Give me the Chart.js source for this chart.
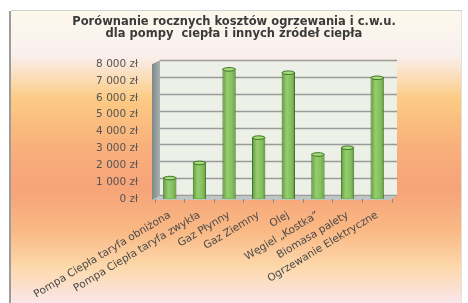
<!DOCTYPE html>
<html>
<head>
<meta charset="utf-8">
<script src="https://cdn.jsdelivr.net/npm/chart.js@4"></script>
<style>
  html, body { margin: 0; padding: 0; background: #fff; }
</style>
</head>
<body>
<canvas id="chart" width="468" height="303"></canvas>
<script>
// data
const categories = [
  'Pompa Ciepła taryfa obniżona',
  'Pompa Ciepła taryfa zwykła',
  'Gaz Płynny',
  'Gaz Ziemny',
  'Olej',
  'Węgiel „Kostka”',
  'Biomasa palety',
  'Ogrzewanie Elektryczne'
];
const costs = [1300, 2200, 7750, 3700, 7550, 2700, 3100, 7250];
const titleLines = [
  'Porównanie rocznych kosztów ogrzewania i c.w.u.',
  'dla pompy  ciepła i innych źródeł ciepła'
];
const yMax = 8000;
const yStep = 1000;

function zl(v) {
  return String(v).replace(/\B(?=(\d{3})+(?!\d))/g, ' ') + ' zł';
}

// background, frame and the fake 3d walls
const backdrop = {
  id: 'backdrop',
  beforeDraw(chart) {
    const c = chart.ctx, W = chart.width, H = chart.height;
    const a = chart.chartArea;
    c.save();
    c.fillStyle = '#fff';
    c.fillRect(0, 0, W, H);

    const g = c.createLinearGradient(0, 11, 0, H);
    g.addColorStop(0.00, '#fdf8ec');
    g.addColorStop(0.15, '#f9f0ef');
    g.addColorStop(0.30, '#fccb84');
    g.addColorStop(0.45, '#f9b27c');
    g.addColorStop(0.60, '#f6a378');
    g.addColorStop(0.75, '#f9b884');
    g.addColorStop(0.88, '#fdd9ac');
    g.addColorStop(1.00, '#fbe6ea');
    c.fillStyle = g;
    c.fillRect(11, 11, 451, H - 11);
    c.fillStyle = '#9c9c9c';
    c.fillRect(9, 11, 2, H - 11);
    c.fillStyle = '#cfcfcf';
    c.fillRect(11, 10, 451, 1);
    c.fillStyle = '#e6e0dc';
    c.fillRect(461, 11, 1, H - 11);

    // back wall
    const dx = 5, dy = 4;
    c.fillStyle = '#edf0e6';
    c.fillRect(a.left + dx, a.top - dy, a.right - a.left, a.bottom - a.top + 1);

    // grid lines on the back wall
    const ys = chart.scales.y;
    c.strokeStyle = '#9a9a9a';
    c.lineWidth = 1.5;
    ys.ticks.forEach(t => {
      const py = Math.round(ys.getPixelForValue(t.value) - dy) + 0.5;
      c.beginPath();
      c.moveTo(a.left + dx, py);
      c.lineTo(a.right + dx, py);
      c.stroke();
    });

    // side wall
    const sw = c.createLinearGradient(a.left - 3, 0, a.left + dx, 0);
    sw.addColorStop(0, '#7f8888');
    sw.addColorStop(1, '#a9b0b0');
    c.fillStyle = sw;
    c.beginPath();
    c.moveTo(a.left - 3, a.top);
    c.lineTo(a.left + dx, a.top - dy);
    c.lineTo(a.left + dx, a.bottom - dy + 1);
    c.lineTo(a.left - 3, a.bottom + 1);
    c.closePath();
    c.fill();

    // floor
    c.fillStyle = '#bfc4c4';
    c.beginPath();
    c.moveTo(a.left - 3, a.bottom + 1);
    c.lineTo(a.left + dx, a.bottom - dy + 1);
    c.lineTo(a.right + dx, a.bottom - dy + 1);
    c.lineTo(a.right - 3, a.bottom + 1);
    c.closePath();
    c.fill();
    c.restore();
  }
};

// cylinder shading on the bars
const gloss = {
  id: 'gloss',
  afterDatasetsDraw(chart) {
    const c = chart.ctx;
    const meta = chart.getDatasetMeta(0);
    c.save();
    meta.data.forEach(bar => {
      const p = bar.getProps(['x', 'y', 'base', 'width'], true);
      const l = p.x - p.width / 2;
      const g = c.createLinearGradient(l, 0, l + p.width, 0);
      g.addColorStop(0, 'rgba(40,90,20,0.45)');
      g.addColorStop(0.4, 'rgba(255,255,230,0.25)');
      g.addColorStop(0.6, 'rgba(255,255,230,0.15)');
      g.addColorStop(1, 'rgba(40,90,20,0.45)');
      c.fillStyle = g;
      c.fillRect(l + 1, p.y + 1, p.width - 2, p.base - p.y - 2);
      c.beginPath();
      c.ellipse(p.x, p.y + 1, p.width / 2 - 0.5, 1.8, 0, 0, Math.PI * 2);
      c.fillStyle = '#a6dc7e';
      c.fill();
      c.strokeStyle = '#3e7424';
      c.lineWidth = 1;
      c.stroke();
    });
    c.restore();
  }
};

new Chart(document.getElementById('chart'), {
  type: 'bar',
  data: {
    labels: categories,
    datasets: [{
      data: costs,
      backgroundColor: '#74bb48',
      borderColor: '#3e7424',
      borderWidth: 1,
      barPercentage: 0.45,
      categoryPercentage: 1
    }]
  },
  options: {
    responsive: false,
    animation: false,
    layout: { padding: { left: 12, right: 12, top: 8, bottom: 6 } },
    plugins: {
      legend: { display: false },
      tooltip: { enabled: false },
      title: {
        display: true,
        text: titleLines,
        color: '#3a3a3a',
        font: { family: 'DejaVu Sans', size: 11.5, weight: 'bold', lineHeight: 1.05 },
        padding: { top: 8, bottom: 24 }
      }
    },
    scales: {
      x: {
        grid: { display: true, drawOnChartArea: false, drawTicks: true, tickLength: 4, color: '#8a8a8a' },
        border: { display: false },
        ticks: {
          autoSkip: false,
          minRotation: 31,
          maxRotation: 31,
          padding: 6,
          color: '#4a4a4a',
          font: { family: 'DejaVu Sans', size: 10.5 }
        },
        afterFit(s) { s.height = 98; }
      },
      y: {
        min: 0,
        max: yMax,
        grid: { display: false, drawTicks: false },
        border: { display: false },
        ticks: {
          stepSize: yStep,
          padding: 17,
          color: '#555',
          font: { family: 'DejaVu Sans', size: 10.5 },
          callback: v => zl(v)
        },
        afterFit(s) { s.width = 143; }
      },
      yr: {
        position: 'right',
        grid: { display: false, drawTicks: false },
        border: { display: false },
        ticks: { display: false },
        afterFit(s) { s.width = 64; }
      }
    }
  },
  plugins: [backdrop, gloss]
});
</script>
</body>
</html>
